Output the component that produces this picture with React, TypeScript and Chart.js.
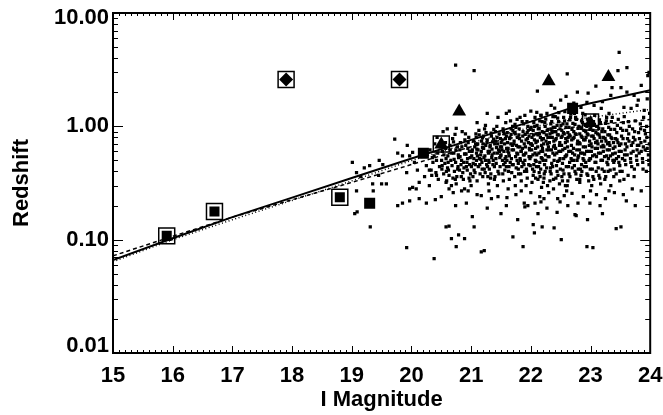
import React, { useEffect, useRef } from 'react';
import { Chart, registerables } from 'chart.js';

Chart.register(...registerables);

const X_MIN = 15;
const X_MAX = 24;
const Y_MIN = 0.01;
const Y_MAX = 10;
const xTickValues = [15, 16, 17, 18, 19, 20, 21, 22, 23, 24];
const xTickLabels = ['15', '16', '17', '18', '19', '20', '21', '22', '23', '24'];
const yTickValues = [0.01, 0.1, 1, 10];
const yTickLabels = ['0.01', '0.10', '1.00', '10.00'];
const xTitle = 'I Magnitude';
const yTitle = 'Redshift';

// model curves (I magnitude -> redshift)
const modelMag = [15, 16, 17, 18, 19, 20, 21, 22, 22.7, 23, 24];
const solidZ = [0.066, 0.103, 0.158, 0.235, 0.35, 0.52, 0.76, 1.1, 1.47, 1.6, 2.08];
const dashedZ = [0.072, 0.107, 0.158, 0.225, 0.32, 0.46, 0.66, 0.86, 0.98, 1.02, 1.15];
const dottedZ = [0.064, 0.1, 0.15, 0.222, 0.33, 0.5, 0.72, 0.98, 1.14, 1.2, 1.41];

// special objects
const boxedSquares = [[15.9, 0.108], [16.7, 0.177], [18.8, 0.237]];
const filledSquares = [[19.3, 0.21], [20.2, 0.58], [22.7, 1.44]];
const boxedDiamonds = [[17.9, 2.59], [19.8, 2.59]];
const triangles = [[20.5, 0.69], [20.8, 1.35], [22.3, 2.5], [23.3, 2.72], [23.0, 1.07]];
const boxedTriangles = [[20.5, 0.7], [23.0, 1.09]];

// field galaxies
const fieldBright = [
  [19.01, 0.48], [19.21, 0.43], [19.3, 0.45], [19.46, 0.5], [19.52, 0.46], [19.77, 0.58], [19.08, 0.39],
  [19.35, 0.31], [19.5, 0.31], [19.58, 0.31], [19.08, 0.27], [19.36, 0.27], [19.05, 0.17], [19.09, 0.176],
  [19.31, 0.13], [19.77, 0.2], [19.85, 0.21], [19.92, 0.085], [19.72, 0.77], [19.93, 0.68], [19.85, 0.55],
  [19.97, 0.28], [20.02, 0.29], [20.08, 0.28], [20.13, 0.23], [20.25, 0.21], [19.97, 0.22], [19.97, 0.55],
  [20.05, 0.48], [20.1, 0.41], [19.92, 0.39], [20.25, 0.45], [20.3, 0.41], [20.13, 0.32], [20.35, 0.53],
  [20.42, 0.37], [20.3, 0.3], [20.02, 0.59], [19.15, 0.36], [19.45, 0.37], [20.18, 0.62], [20.22, 0.36]
];
const field20 = [
  [20.31, 0.62], [20.36, 0.48], [20.33, 0.41], [20.38, 0.55], [20.34, 0.37], [20.39, 0.7],
  [20.42, 0.5], [20.47, 0.44], [20.44, 0.58], [20.41, 0.39], [20.48, 0.66], [20.45, 0.34], [20.43, 0.8],
  [20.52, 0.6], [20.56, 0.47], [20.54, 0.38], [20.58, 0.52], [20.51, 0.42], [20.57, 0.72], [20.59, 0.33], [20.53, 0.9],
  [20.61, 0.55], [20.65, 0.62], [20.68, 0.45], [20.63, 0.37], [20.66, 0.5], [20.69, 0.78], [20.62, 0.41], [20.67, 0.3],
  [20.71, 0.58], [20.74, 0.48], [20.77, 0.66], [20.72, 0.4], [20.79, 0.53], [20.76, 0.36], [20.73, 0.85], [20.78, 0.44], [20.75, 0.31],
  [20.81, 0.62], [20.84, 0.5], [20.88, 0.43], [20.82, 0.72], [20.86, 0.39], [20.89, 0.57], [20.83, 0.46], [20.87, 0.34], [20.85, 0.9],
  [20.91, 0.68], [20.94, 0.52], [20.97, 0.6], [20.92, 0.44], [20.96, 0.8], [20.99, 0.38], [20.93, 0.48], [20.98, 0.33], [20.95, 0.72]
];
const field21 = [
  [21.01, 0.55], [21.04, 0.74], [21.07, 0.46], [21.02, 0.62], [21.09, 0.5], [21.05, 0.41], [21.08, 0.86], [21.03, 0.36], [21.06, 0.66], [21.0, 0.3], [21.09, 0.58],
  [21.11, 0.7], [21.14, 0.52], [21.17, 0.6], [21.12, 0.44], [21.19, 0.79], [21.15, 0.38], [21.18, 0.48], [21.13, 0.92], [21.16, 0.56], [21.1, 0.33], [21.19, 0.65],
  [21.21, 0.64], [21.24, 0.5], [21.27, 0.76], [21.22, 0.42], [21.29, 0.58], [21.25, 0.88], [21.28, 0.36], [21.23, 0.55], [21.26, 0.46], [21.2, 0.7], [21.29, 0.31], [21.24, 1.02],
  [21.31, 0.6], [21.34, 0.82], [21.37, 0.5], [21.32, 0.68], [21.39, 0.44], [21.35, 0.56], [21.38, 0.94], [21.33, 0.38], [21.36, 0.73], [21.3, 0.48], [21.39, 0.34], [21.35, 0.63],
  [21.41, 0.74], [21.44, 0.58], [21.47, 0.86], [21.42, 0.47], [21.49, 0.66], [21.45, 0.4], [21.48, 0.53], [21.43, 1.0], [21.46, 0.62], [21.4, 0.36], [21.49, 0.78], [21.44, 0.3],
  [21.51, 0.66], [21.54, 0.9], [21.57, 0.52], [21.52, 0.76], [21.59, 0.44], [21.55, 0.6], [21.58, 1.08], [21.53, 0.38], [21.56, 0.7], [21.5, 0.56], [21.59, 0.82], [21.54, 0.33], [21.57, 0.48],
  [21.61, 0.72], [21.64, 0.55], [21.67, 0.95], [21.62, 0.64], [21.69, 0.46], [21.65, 0.8], [21.68, 0.39], [21.63, 0.58], [21.66, 1.12], [21.6, 0.5], [21.69, 0.68], [21.64, 0.34], [21.67, 0.85],
  [21.71, 0.62], [21.74, 0.86], [21.77, 0.5], [21.72, 0.74], [21.79, 0.42], [21.75, 0.98], [21.78, 0.57], [21.73, 0.36], [21.76, 0.68], [21.7, 0.92], [21.79, 0.47], [21.74, 0.3], [21.77, 1.15],
  [21.81, 0.78], [21.84, 0.6], [21.87, 0.9], [21.82, 0.52], [21.89, 0.7], [21.85, 0.44], [21.88, 1.05], [21.83, 0.38], [21.86, 0.64], [21.8, 0.84], [21.89, 0.56], [21.84, 0.33], [21.87, 0.48], [21.82, 1.2],
  [21.91, 0.66], [21.94, 0.88], [21.97, 0.54], [21.92, 0.76], [21.99, 0.45], [21.95, 1.0], [21.98, 0.62], [21.93, 0.4], [21.96, 0.72], [21.9, 0.5], [21.99, 0.94], [21.94, 0.35], [21.97, 0.82], [21.92, 0.3]
];
const field22 = [
  [22.01, 0.7], [22.04, 0.92], [22.07, 0.58], [22.02, 0.8], [22.09, 0.49], [22.05, 1.08], [22.08, 0.64], [22.03, 0.42], [22.06, 0.76], [22.0, 0.54], [22.09, 0.86], [22.04, 0.37], [22.07, 1.2], [22.02, 0.32], [22.05, 0.46],
  [22.11, 0.74], [22.14, 0.96], [22.17, 0.6], [22.12, 0.84], [22.19, 0.52], [22.15, 1.12], [22.18, 0.68], [22.13, 0.44], [22.16, 0.8], [22.1, 0.56], [22.19, 0.9], [22.14, 0.39], [22.17, 1.25], [22.12, 0.34], [22.15, 0.48], [22.18, 0.29],
  [22.21, 0.78], [22.24, 1.0], [22.27, 0.62], [22.22, 0.88], [22.29, 0.54], [22.25, 1.16], [22.28, 0.7], [22.23, 0.46], [22.26, 0.84], [22.2, 0.6], [22.29, 0.94], [22.24, 0.4], [22.27, 1.3], [22.22, 0.35], [22.25, 0.5], [22.28, 0.3],
  [22.31, 0.72], [22.34, 0.95], [22.37, 0.58], [22.32, 0.86], [22.39, 0.5], [22.35, 1.1], [22.38, 0.66], [22.33, 0.43], [22.36, 0.8], [22.3, 0.62], [22.39, 0.9], [22.34, 0.38], [22.37, 1.22], [22.32, 0.33], [22.35, 0.47], [22.38, 0.28],
  [22.41, 0.76], [22.44, 1.02], [22.47, 0.6], [22.42, 0.9], [22.49, 0.52], [22.45, 1.18], [22.48, 0.68], [22.43, 0.45], [22.46, 0.84], [22.4, 0.56], [22.49, 0.95], [22.44, 0.4], [22.47, 1.32], [22.42, 0.35], [22.45, 0.49], [22.48, 0.31],
  [22.51, 0.8], [22.54, 1.05], [22.57, 0.64], [22.52, 0.92], [22.59, 0.55], [22.55, 1.2], [22.58, 0.72], [22.53, 0.47], [22.56, 0.86], [22.5, 0.6], [22.59, 0.98], [22.54, 0.41], [22.57, 1.35], [22.52, 0.36], [22.55, 0.52], [22.58, 0.3],
  [22.61, 0.74], [22.64, 0.98], [22.67, 0.6], [22.62, 0.88], [22.69, 0.5], [22.65, 1.14], [22.68, 0.68], [22.63, 0.44], [22.66, 0.82], [22.6, 0.56], [22.69, 0.94], [22.64, 0.38], [22.67, 1.28], [22.62, 0.33], [22.65, 0.48],
  [22.71, 0.78], [22.74, 1.04], [22.77, 0.62], [22.72, 0.9], [22.79, 0.53], [22.75, 1.2], [22.78, 0.7], [22.73, 0.45], [22.76, 0.85], [22.7, 0.58], [22.79, 0.96], [22.74, 0.4], [22.77, 0.34], [22.72, 0.5],
  [22.81, 0.72], [22.84, 0.96], [22.87, 0.58], [22.82, 0.86], [22.89, 0.5], [22.85, 1.12], [22.88, 0.66], [22.83, 0.42], [22.86, 0.8], [22.8, 0.55], [22.89, 0.92], [22.84, 0.37], [22.87, 1.3], [22.82, 0.32], [22.85, 0.46],
  [22.91, 0.76], [22.94, 1.0], [22.97, 0.6], [22.92, 0.9], [22.99, 0.52], [22.95, 1.16], [22.98, 0.68], [22.93, 0.44], [22.96, 0.84], [22.9, 0.57], [22.99, 0.94], [22.94, 0.38], [22.97, 0.33], [22.92, 0.48]
];
const field23 = [
  [23.01, 0.7], [23.04, 0.92], [23.07, 0.56], [23.02, 0.82], [23.09, 0.48], [23.05, 1.1], [23.08, 0.64], [23.03, 0.42], [23.06, 0.78], [23.0, 0.52], [23.09, 0.88], [23.04, 0.36], [23.07, 1.25], [23.02, 0.3],
  [23.11, 0.74], [23.14, 0.96], [23.17, 0.58], [23.12, 0.86], [23.19, 0.5], [23.15, 1.14], [23.18, 0.66], [23.13, 0.43], [23.16, 0.8], [23.1, 0.54], [23.19, 0.9], [23.14, 0.37], [23.17, 0.31],
  [23.21, 0.68], [23.24, 0.9], [23.27, 0.55], [23.22, 0.8], [23.29, 0.46], [23.25, 1.06], [23.28, 0.62], [23.23, 0.4], [23.26, 0.74], [23.2, 0.5], [23.29, 0.84], [23.24, 0.34], [23.27, 1.2],
  [23.31, 0.72], [23.34, 0.94], [23.37, 0.57], [23.32, 0.84], [23.39, 0.48], [23.35, 1.1], [23.38, 0.64], [23.33, 0.41], [23.36, 0.78], [23.3, 0.52], [23.39, 0.36], [23.34, 0.3],
  [23.41, 0.66], [23.44, 0.88], [23.47, 0.54], [23.42, 0.78], [23.49, 0.45], [23.45, 1.02], [23.48, 0.6], [23.43, 0.38], [23.46, 0.72], [23.4, 0.5], [23.49, 0.33],
  [23.51, 0.7], [23.54, 0.92], [23.57, 0.56], [23.52, 0.82], [23.59, 0.46], [23.55, 1.08], [23.58, 0.62], [23.53, 0.4], [23.56, 0.34],
  [23.61, 0.66], [23.64, 0.86], [23.67, 0.52], [23.62, 0.78], [23.69, 0.44], [23.65, 1.0], [23.68, 0.58], [23.63, 0.37],
  [23.71, 0.72], [23.74, 0.9], [23.77, 0.55], [23.72, 0.8], [23.79, 0.46], [23.75, 1.12], [23.78, 0.62], [23.73, 0.36],
  [23.81, 0.68], [23.84, 0.95], [23.87, 0.52], [23.82, 0.78], [23.89, 1.2], [23.85, 0.6], [23.88, 0.42],
  [23.91, 0.74], [23.94, 1.0], [23.97, 0.56], [23.92, 0.86], [23.99, 1.3], [23.95, 0.64], [23.98, 0.46]
];
const fieldCoreA = [
  [20.515, 0.45], [20.545, 0.56], [20.575, 0.64], [20.505, 0.5], [20.585, 0.4],
  [20.615, 0.48], [20.645, 0.68], [20.675, 0.58], [20.605, 0.43], [20.695, 0.35],
  [20.715, 0.51], [20.745, 0.62], [20.775, 0.42], [20.705, 0.73], [20.785, 0.56], [20.735, 0.34],
  [20.815, 0.54], [20.845, 0.66], [20.875, 0.48], [20.805, 0.41], [20.895, 0.76], [20.835, 0.36],
  [20.915, 0.57], [20.945, 0.64], [20.975, 0.46], [20.905, 0.86], [20.985, 0.53], [20.935, 0.41], [20.965, 0.35],
  [21.015, 0.6], [21.045, 0.52], [21.075, 0.7], [21.005, 0.44], [21.085, 0.8], [21.035, 0.47], [21.065, 0.39], [21.095, 0.63],
  [21.115, 0.62], [21.145, 0.46], [21.175, 0.74], [21.105, 0.55], [21.185, 0.42], [21.135, 0.84], [21.165, 0.51], [21.195, 0.36],
  [21.215, 0.53], [21.245, 0.68], [21.275, 0.44], [21.205, 0.82], [21.285, 0.6], [21.235, 0.39], [21.265, 0.72], [21.295, 0.5], [21.225, 0.95],
  [21.315, 0.66], [21.345, 0.53], [21.375, 0.77], [21.305, 0.42], [21.385, 0.58], [21.335, 0.87], [21.365, 0.46], [21.395, 0.7], [21.325, 0.35],
  [21.415, 0.52], [21.445, 0.7], [21.475, 0.6], [21.405, 0.9], [21.485, 0.44], [21.435, 0.8], [21.465, 0.38], [21.495, 0.55], [21.425, 0.65],
  [21.515, 0.62], [21.545, 0.46], [21.575, 0.78], [21.505, 0.72], [21.585, 0.54], [21.535, 0.95], [21.565, 0.41], [21.595, 0.64], [21.525, 0.5], [21.555, 0.86],
  [21.615, 0.6], [21.645, 0.78], [21.675, 0.52], [21.605, 0.88], [21.685, 0.62], [21.635, 0.44], [21.665, 0.7], [21.695, 1.0], [21.625, 0.4], [21.655, 0.48],
  [21.715, 0.7], [21.745, 0.54], [21.775, 0.8], [21.705, 0.46], [21.785, 0.66], [21.735, 1.04], [21.765, 0.58], [21.795, 0.38], [21.725, 0.88], [21.755, 0.43],
  [21.815, 0.66], [21.845, 0.74], [21.875, 0.56], [21.805, 0.95], [21.885, 0.46], [21.835, 0.6], [21.865, 0.82], [21.895, 0.4], [21.825, 0.5], [21.855, 1.1],
  [21.915, 0.58], [21.945, 0.78], [21.975, 0.64], [21.905, 0.85], [21.985, 0.52], [21.935, 1.1], [21.965, 0.46], [21.995, 0.7], [21.925, 0.42], [21.955, 0.92]
];
const fieldCoreB = [
  [22.015, 0.62], [22.045, 0.84], [22.075, 0.5], [22.005, 0.98], [22.085, 0.72], [22.035, 0.56], [22.065, 1.0], [22.095, 0.44], [22.025, 0.68], [22.055, 0.4], [22.08, 0.35],
  [22.115, 0.66], [22.145, 0.86], [22.175, 0.53], [22.105, 1.02], [22.185, 0.76], [22.135, 0.58], [22.165, 0.42], [22.195, 0.64], [22.125, 0.95], [22.155, 0.36], [22.19, 1.1],
  [22.215, 0.7], [22.245, 0.56], [22.275, 0.92], [22.205, 0.5], [22.285, 0.8], [22.235, 1.08], [22.265, 0.43], [22.295, 0.66], [22.225, 0.38], [22.255, 0.74], [22.21, 0.32],
  [22.315, 0.8], [22.345, 0.62], [22.375, 0.98], [22.305, 0.54], [22.385, 0.74], [22.335, 1.05], [22.365, 0.44], [22.395, 0.68], [22.325, 0.4], [22.355, 0.88], [22.38, 0.34],
  [22.415, 0.64], [22.445, 0.84], [22.475, 0.5], [22.405, 0.98], [22.485, 0.72], [22.435, 0.58], [22.465, 1.1], [22.495, 0.42], [22.425, 0.78], [22.455, 0.37], [22.41, 1.22],
  [22.515, 0.68], [22.545, 0.88], [22.575, 0.54], [22.505, 1.02], [22.585, 0.78], [22.535, 0.62], [22.565, 1.12], [22.595, 0.44], [22.525, 0.82], [22.555, 0.38], [22.53, 0.33],
  [22.615, 0.66], [22.645, 0.84], [22.675, 0.52], [22.605, 1.05], [22.685, 0.76], [22.635, 0.6], [22.665, 1.2], [22.695, 0.43], [22.625, 0.8], [22.655, 0.36], [22.61, 0.3],
  [22.715, 0.64], [22.745, 0.86], [22.775, 0.5], [22.705, 1.06], [22.785, 0.74], [22.735, 0.56], [22.765, 1.15], [22.795, 0.42], [22.725, 0.8], [22.755, 0.38], [22.73, 1.3],
  [22.815, 0.62], [22.845, 0.82], [22.875, 0.52], [22.805, 1.0], [22.885, 0.76], [22.835, 0.58], [22.865, 1.08], [22.895, 0.44], [22.825, 0.7], [22.855, 0.4], [22.82, 0.34],
  [22.915, 0.66], [22.945, 0.86], [22.975, 0.5], [22.905, 1.04], [22.985, 0.74], [22.935, 0.6], [22.965, 1.12], [22.995, 0.42], [22.925, 0.8], [22.955, 0.37], [22.91, 1.26]
];
const fieldCoreC = [
  [23.015, 0.6], [23.045, 0.82], [23.075, 0.48], [23.005, 0.98], [23.085, 0.72], [23.035, 0.55], [23.065, 1.04], [23.095, 0.4], [23.025, 0.66], [23.055, 0.34],
  [23.115, 0.64], [23.145, 0.84], [23.175, 0.5], [23.105, 1.0], [23.185, 0.74], [23.135, 0.58], [23.165, 1.08], [23.195, 0.42], [23.125, 0.7], [23.155, 0.35],
  [23.215, 0.6], [23.245, 0.78], [23.275, 0.48], [23.205, 0.95], [23.285, 0.7], [23.235, 0.54], [23.265, 1.12], [23.295, 0.4], [23.225, 0.66], [23.255, 0.36],
  [23.315, 0.62], [23.345, 0.8], [23.375, 0.5], [23.305, 0.98], [23.385, 0.72], [23.335, 0.55], [23.365, 1.2], [23.395, 0.42], [23.325, 0.68],
  [23.415, 0.58], [23.445, 0.76], [23.475, 0.48], [23.405, 0.94], [23.485, 0.68], [23.435, 0.52], [23.465, 1.15], [23.495, 0.4],
  [23.515, 0.6], [23.545, 0.78], [23.575, 0.5], [23.505, 0.96], [23.585, 0.7], [23.535, 0.52], [23.565, 1.22],
  [23.615, 0.56], [23.645, 0.74], [23.675, 0.48], [23.605, 0.92], [23.685, 0.68], [23.635, 1.1],
  [23.715, 0.6], [23.745, 0.76], [23.775, 0.5], [23.705, 0.95], [23.785, 0.68], [23.735, 0.42],
  [23.815, 0.58], [23.845, 0.72], [23.875, 0.48], [23.805, 0.88], [23.885, 0.66], [23.835, 1.05],
  [23.915, 0.62], [23.945, 0.8], [23.975, 0.5], [23.905, 0.92], [23.985, 0.7], [23.935, 0.4]
];
const fieldHigh = [
  [20.74, 3.46], [21.05, 3.1], [22.61, 2.9], [23.48, 4.5], [23.61, 3.3], [23.46, 3.1], [23.98, 3.0],
  [22.11, 2.04], [22.59, 1.84], [23.09, 2.26], [23.36, 2.2], [23.51, 2.2], [22.78, 2.0], [22.96, 1.96],
  [23.34, 1.88], [23.61, 2.0], [23.73, 1.88], [23.85, 2.3], [23.96, 2.8],
  [21.27, 1.3], [21.64, 1.36], [21.59, 1.3], [22.0, 1.36], [22.1, 1.33], [22.17, 1.25], [22.34, 1.53],
  [22.5, 1.7], [22.72, 1.6], [22.84, 1.47], [22.94, 1.63], [23.06, 1.53], [23.18, 1.44], [23.31, 1.3],
  [23.56, 1.47], [23.68, 1.44], [23.78, 1.53], [23.9, 1.38], [20.75, 0.96], [21.1, 1.08], [20.6, 0.95],
  [21.45, 1.2], [21.9, 1.25], [23.95, 1.75], [23.8, 1.7], [22.4, 1.45], [23.2, 1.65]
];
const fieldLow = [
  [20.38, 0.068], [20.58, 0.13], [20.63, 0.132], [20.67, 0.102], [20.74, 0.2], [20.75, 0.087], [20.79, 0.11],
  [20.89, 0.102], [20.92, 0.21], [21.02, 0.16], [21.05, 0.13], [21.17, 0.078], [21.22, 0.08], [21.27, 0.19],
  [21.34, 0.23], [21.17, 0.245], [21.59, 0.2], [21.6, 0.235], [21.7, 0.106], [21.87, 0.087], [21.89, 0.21],
  [21.9, 0.195], [21.95, 0.2], [22.04, 0.136], [22.06, 0.115], [22.07, 0.21], [22.12, 0.17], [22.17, 0.215],
  [22.19, 0.13], [22.22, 0.23], [22.39, 0.127], [22.44, 0.174], [22.49, 0.215], [22.51, 0.1], [22.56, 0.245],
  [22.69, 0.256], [22.74, 0.166], [22.76, 0.163], [22.79, 0.21], [22.94, 0.087], [23.04, 0.085], [22.99, 0.21],
  [23.16, 0.2], [23.31, 0.27], [23.43, 0.125], [23.51, 0.13], [23.6, 0.22], [20.95, 0.27], [21.1, 0.25],
  [21.3, 0.27], [21.45, 0.24], [21.62, 0.28], [21.75, 0.25], [21.84, 0.27], [22.0, 0.26], [22.15, 0.24],
  [22.3, 0.26], [22.45, 0.23], [22.6, 0.27], [22.88, 0.24], [23.0, 0.27], [23.1, 0.25], [23.25, 0.23],
  [23.4, 0.26], [23.55, 0.25], [23.7, 0.28], [23.85, 0.27], [22.27, 0.19], [22.62, 0.2], [23.2, 0.17],
  [21.5, 0.17], [21.78, 0.15], [22.95, 0.15], [23.75, 0.2], [20.5, 0.24], [20.7, 0.26], [20.84, 0.27],
  [20.89, 0.28], [20.58, 0.32], [20.63, 0.28], [20.4, 0.226]
];

const FONT = "'Liberation Sans', Arial, Helvetica, sans-serif";
const TICK_SIZE = 22;
const TITLE_SIZE = 22;

const toXY = (arr: number[][]) => arr.map(([x, y]) => ({ x, y }));
const curve = (zs: number[]) => modelMag.map((m, i) => ({ x: m, y: zs[i] }));

const idlAxes = {
  id: 'idlAxes',
  afterDatasetsDraw(chart: any) {
    const { ctx, chartArea: a, scales } = chart;
    const xs = scales.x;
    const ys = scales.y;
    ctx.save();
    ctx.strokeStyle = '#000';
    ctx.lineWidth = 1;
    ctx.beginPath();
    const nx = Math.round((X_MAX - X_MIN) * 10);
    for (let i = 0; i <= nx; i++) {
      const v = X_MIN + i / 10;
      const px = Math.round(xs.getPixelForValue(v)) + 0.5;
      const len = i % 10 === 0 ? 7 : 3;
      ctx.moveTo(px, a.bottom);
      ctx.lineTo(px, a.bottom - len);
      ctx.moveTo(px, a.top);
      ctx.lineTo(px, a.top + len);
    }
    for (let d = -2; d <= 1; d++) {
      for (let k = 1; k <= 9; k++) {
        const v = k * Math.pow(10, d);
        if (v > Y_MAX * 1.0001) break;
        const py = Math.round(ys.getPixelForValue(v)) + 0.5;
        const len = k === 1 ? 10 : 5;
        ctx.moveTo(a.left, py);
        ctx.lineTo(a.left + len, py);
        ctx.moveTo(a.right, py);
        ctx.lineTo(a.right - len, py);
      }
    }
    ctx.stroke();
    ctx.lineWidth = 2;
    ctx.strokeRect(a.left, a.top, a.right - a.left, a.bottom - a.top);
    ctx.fillStyle = '#000';
    ctx.font = `bold ${TICK_SIZE}px ${FONT}`;
    ctx.textAlign = 'right';
    ctx.textBaseline = 'middle';
    yTickValues.forEach((v, i) => {
      let py = ys.getPixelForValue(v);
      py = Math.min(Math.max(py, a.top + 5), a.bottom - 7);
      ctx.fillText(yTickLabels[i], a.left - 4, py);
    });
    ctx.textAlign = 'center';
    xTickValues.forEach((v, i) => {
      const px = xs.getPixelForValue(v);
      ctx.fillText(xTickLabels[i], px, a.bottom + 23);
    });
    ctx.restore();
  },
};

export default function App() {
  const ref = useRef<HTMLCanvasElement | null>(null);
  useEffect(() => {
    if (!ref.current) return;
    const field = [
      ...fieldBright, ...field20, ...field21, ...field22, ...field23,
      ...fieldCoreA, ...fieldCoreB, ...fieldCoreC, ...fieldHigh, ...fieldLow,
    ];
    const chart = new Chart(ref.current, {
      type: 'scatter',
      data: {
        datasets: [
          {
            label: 'field',
            data: toXY(field),
            pointStyle: 'rect',
            pointRadius: 2.3,
            backgroundColor: '#000',
            borderWidth: 0,
            order: 10,
          },
          {
            label: 'solid',
            data: curve(solidZ),
            showLine: true,
            pointRadius: 0,
            borderColor: '#000',
            borderWidth: 2,
            order: 6,
          },
          {
            label: 'dashed',
            data: curve(dashedZ),
            showLine: true,
            pointRadius: 0,
            borderColor: '#000',
            borderWidth: 1.5,
            borderDash: [4, 3],
            order: 7,
          },
          {
            label: 'dotted',
            data: curve(dottedZ),
            showLine: true,
            pointRadius: 0,
            borderColor: '#000',
            borderWidth: 1.5,
            borderDash: [1, 2.5],
            order: 8,
          },
          {
            label: 'boxes',
            data: toXY([...boxedSquares, ...boxedDiamonds, ...boxedTriangles]),
            pointStyle: 'rect',
            pointRadius: 11.3,
            backgroundColor: 'rgba(0,0,0,0)',
            borderColor: '#000',
            borderWidth: 1.5,
            order: 4,
          },
          {
            label: 'boxedSquares',
            data: toXY(boxedSquares),
            pointStyle: 'rect',
            pointRadius: 7.1,
            backgroundColor: '#000',
            borderWidth: 0,
            order: 2,
          },
          {
            label: 'squares',
            data: toXY(filledSquares),
            pointStyle: 'rect',
            pointRadius: 7.8,
            backgroundColor: '#000',
            borderWidth: 0,
            order: 2,
          },
          {
            label: 'diamonds',
            data: toXY(boxedDiamonds),
            pointStyle: 'rectRot',
            pointRadius: 7,
            backgroundColor: '#000',
            borderWidth: 0,
            order: 2,
          },
          {
            label: 'triangles',
            data: toXY(triangles),
            pointStyle: 'triangle',
            pointRadius: 8,
            backgroundColor: '#000',
            borderWidth: 0,
            order: 2,
          },
        ],
      },
      options: {
        responsive: false,
        animation: false,
        events: [],
        layout: { padding: { top: 13, right: 12, left: 0, bottom: 0 } },
        plugins: { legend: { display: false }, tooltip: { enabled: false } },
        scales: {
          x: {
            type: 'linear',
            min: X_MIN,
            max: X_MAX,
            afterFit: (s: any) => { s.height = 62; },
            grid: { display: false, drawTicks: false },
            border: { display: false },
            ticks: { display: false },
            title: {
              display: true,
              text: xTitle,
              color: '#000',
              font: { family: FONT, size: TITLE_SIZE, weight: 'bold' },
              padding: { top: 0, bottom: 2 },
            },
          },
          y: {
            type: 'logarithmic',
            min: Y_MIN,
            max: Y_MAX,
            afterFit: (s: any) => { s.width = 113; },
            grid: { display: false, drawTicks: false },
            border: { display: false },
            ticks: { display: false },
            title: {
              display: true,
              text: yTitle,
              color: '#000',
              font: { family: FONT, size: TITLE_SIZE, weight: 'bold' },
              padding: { top: 9, bottom: 0 },
            },
          },
        },
      },
      plugins: [idlAxes],
    } as any);
    return () => chart.destroy();
  }, []);
  return (
    <div style={{ position: 'absolute', left: 0, top: 0, width: 663, height: 415, background: '#fff' }}>
      <canvas ref={ref} width={663} height={415} />
    </div>
  );
}
